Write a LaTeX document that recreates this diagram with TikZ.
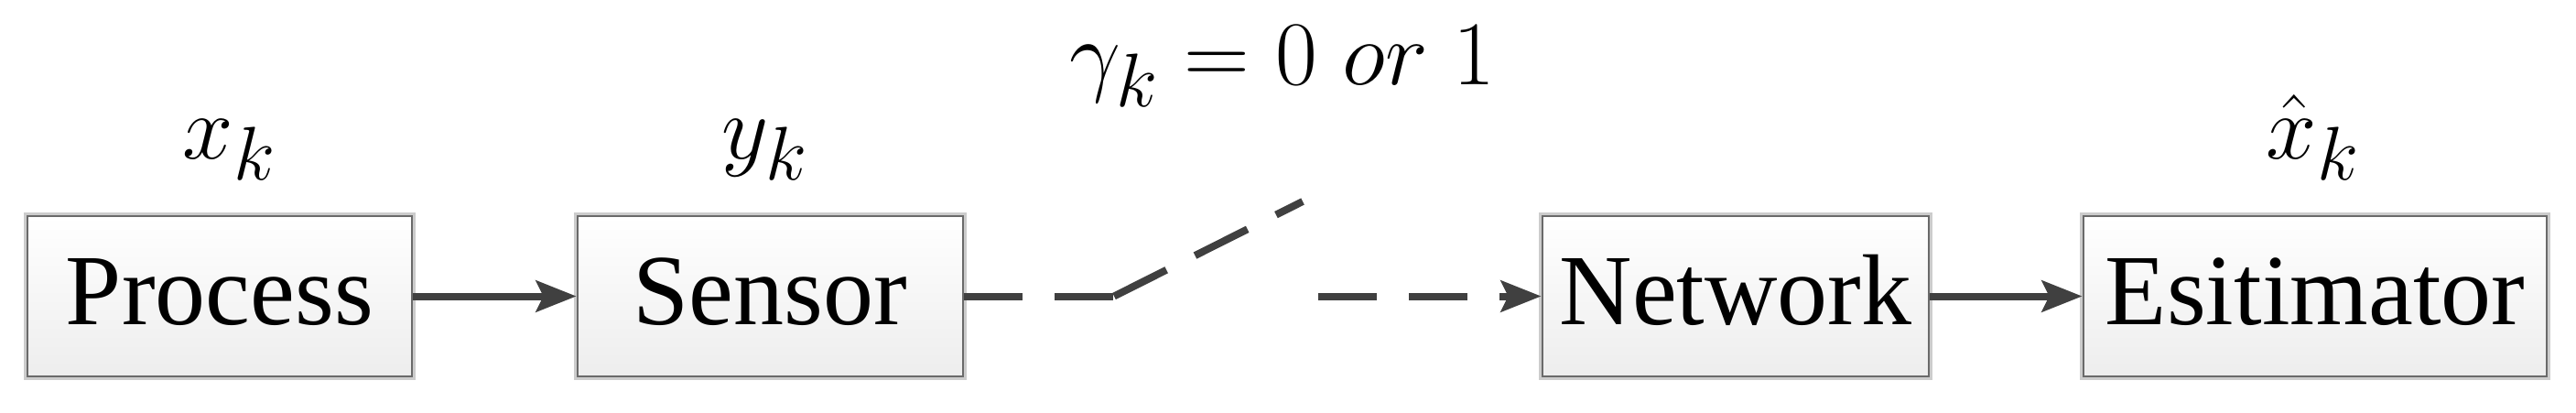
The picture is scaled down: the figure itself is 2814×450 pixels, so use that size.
\documentclass[tikz,border=0pt]{standalone}
\usepackage{fontspec}
\setmainfont{Liberation Serif}
\usetikzlibrary{arrows.meta}
\definecolor{lineC}{HTML}{404040}
\definecolor{boxC}{HTML}{6A6A6A}
\begin{document}
\begin{tikzpicture}[x=0.25pt,y=-0.25pt,
  blk/.style={draw=boxC, line width=0.7pt, top color=white, bottom color=black!7,
    minimum height=43.75pt, inner sep=0pt, font=\fontsize{27.5}{30}\selectfont,
    text height=18pt, text depth=2.75pt,
    preaction={draw=black!20, line width=1.8pt}},
  conn/.style={draw=lineC, line width=2pt},
  tip/.style={-{Stealth[length=11pt,width=8.5pt,inset=2pt]}},
  dsh/.style={dash pattern=on 16pt off 8.75pt},
  lbl/.style={font=\fontsize{30}{33}\selectfont, inner sep=0pt, anchor=base}]
\useasboundingbox (0,0) rectangle (2814,450);
\node[blk, minimum width=105pt]   (pro) at (240,323.5)  {Process};
\node[blk, minimum width=105.25pt] (sen) at (841.5,323.5) {Sensor};
\node[blk, minimum width=105.5pt] (net) at (1896,323.5) {Network};
\node[blk, minimum width=126.5pt] (est) at (2529,323.5) {Esitimator};
\node[lbl] (xk) at (251,173) {$x_k$};
\node[lbl] (yk) at (836,173) {$y_k$};
\node[lbl] (xh) at (2527,173) {$\hat{x}_k$};
\node[lbl] (gk) at (1401,93) {$\gamma_k = 0\;or\;1$};
\coordinate (s1) at (1217,323.5);
\coordinate (s2) at (1423,220);
\coordinate (s3) at (1440,323.5);
\draw[conn,tip] (pro.east) -- (sen.west);
\draw[conn,dsh] (sen.east) -- (s1);
\draw[conn,dsh] (s1) -- (s2);
\draw[conn,dsh,tip] (s3) -- (net.west);
\draw[conn,tip] (net.east) -- (est.west);
\end{tikzpicture}
\end{document}
